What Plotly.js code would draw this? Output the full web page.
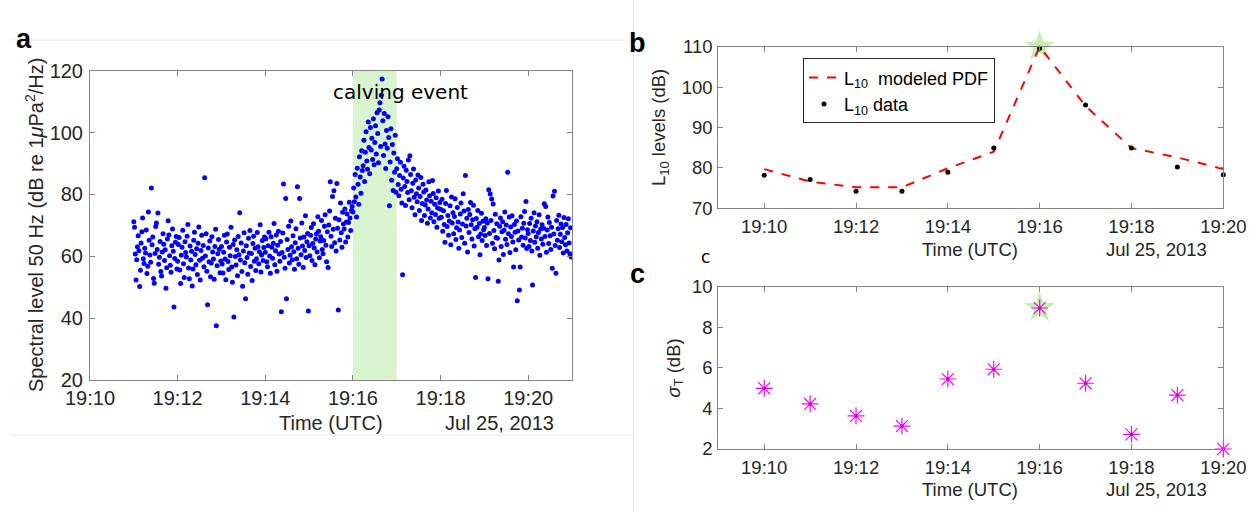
<!DOCTYPE html>
<html><head><meta charset="utf-8">
<script src="https://cdn.plot.ly/plotly-3.0.1.min.js"></script>
<style>html,body{margin:0;padding:0;background:#fff}#chart{width:1254px;height:512px}</style>
</head><body><div id="chart"></div>
<script>
// ---------- DATA ----------
const day = '2013-07-25 ';
const scatterStart = '19:11:00'; // first sample of panel a, one sample per second
// Panel a: spectral level 50 Hz (dB), one value per second, by minute
const min11 = [71.2,69.4,60.7,52.3,58.9,63.1,66.6,61.8,50.2,55.5,64.3,67.9,72.4,59.2,57.7,62.6,61.1,68.5,54.4,56.8,74.3,65.2,60.4,58.1,82.1,63.7,66.2,52.8,51.3,60.9,69.6,70.8,62.2,74.0,57.4,59.7,64.8,55.1,53.6,61.4,67.3,63.9,58.6,62.1,49.7,56.3,65.6,71.5,66.9,60.2,57.1,54.8,63.4,68.8,61.6,43.6,59.3,64.5,66.4,55.9];
const min12 = [58.4,63.8,66.1,55.6,51.2,60.3,62.9,68.4,57.6,53.1,64.7,61.2,59.8,66.5,70.3,56.2,52.7,63.3,58.8,61.6,50.4,55.9,65.2,67.8,60.6,57.3,62.4,54.1,64.2,69.5,58.7,52.3,61.9,66.8,59.4,63.5,56.6,85.4,60.1,67.3,55.2,44.3,62.7,58.2,64.9,53.4,57.8,66.3,61.4,59.1,52.6,63.2,68.7,37.5,56.9,60.8,65.4,62.3,54.7,58.5];
const min13 = [63.2,57.5,54.6,61.3,66.8,59.1,52.4,64.6,67.2,58.3,55.7,62.9,60.2,69.4,56.5,51.6,63.8,40.4,65.3,59.9,57.2,62.1,53.7,66.4,60.5,74.1,58.8,64.3,55.1,50.3,61.7,67.6,57.9,46.3,63.4,59.6,54.2,65.8,61.1,68.3,56.7,60.9,52.2,64.1,66.5,58.4,62.6,55.4,59.2,67.7,63.1,57.6,61.5,70.2,54.9,60.4,65.1,58.6,62.8,66.2];
const min14 = [61.3,65.7,58.2,56.6,63.4,67.8,60.1,54.5,66.3,62.9,59.4,64.2,70.6,57.3,61.8,66.9,55.2,63.6,68.1,60.7,58.4,64.8,42.1,61.2,67.5,83.4,59.7,56.1,78.7,46.3,65.4,62.2,69.7,57.8,60.3,71.4,63.1,58.9,66.6,61.5,55.8,64.4,68.9,59.2,82.5,62.6,57.4,78.7,65.9,60.5,70.8,63.3,56.4,66.2,61.9,73.1,59.6,64.7,67.4,42.3];
const min15 = [63.4,60.2,66.8,69.3,58.6,64.1,70.5,62.7,57.3,65.6,67.2,61.4,72.8,68.1,59.5,64.9,66.3,71.6,62.2,60.8,65.1,69.7,73.4,63.6,58.2,67.9,56.4,70.1,74.6,84.1,66.5,63.2,79.3,68.7,81.2,64.4,72.3,61.7,83.5,69.1,42.6,71.8,65.3,77.2,67.6,62.9,74.2,70.4,68.8,75.3,64.6,71.1,73.7,66.2,70.9,77.5,72.4,68.3,74.8,76.1];
const min16 = [74.3,82.1,77.6,86.4,79.2,72.7,88.5,83.3,76.8,92.2,85.6,80.4,94.1,87.7,89.3,97.5,84.2,93.6,100.3,90.8,88.1,103.4,95.2,86.7,101.6,94.4,98.2,91.3,104.5,89.6,96.8,102.2,93.1,106.4,99.7,90.2,107.3,109.6,95.5,112.1,117.3,103.8,92.6,106.2,96.3,88.4,100.7,94.9,105.1,98.4,76.3,90.5,101.2,84.6,96.1,81.3,93.4,87.2,99.1,80.7];
const min17 = [88.3,91.5,83.2,79.6,86.1,90.4,81.7,77.2,54.0,85.3,89.1,82.6,76.4,87.8,84.2,80.6,91.1,78.3,92.5,86.4,81.2,75.7,83.6,88.2,79.1,73.4,84.7,80.2,77.6,86.3,82.1,74.8,79.3,85.5,71.6,77.1,83.3,80.8,73.2,76.6,81.4,78.2,70.7,75.3,84.1,79.6,72.4,77.8,74.1,84.5,80.3,71.2,76.8,73.5,78.9,69.4,75.6,81.1,72.3,77.4];
const min18 = [75.2,72.6,78.4,68.1,74.7,70.3,64.5,77.1,81.3,69.6,73.2,66.8,71.4,76.3,63.7,79.2,70.8,74.1,67.3,72.9,78.6,65.4,69.2,75.8,71.1,62.6,68.5,73.7,77.2,66.1,70.4,80.2,74.6,64.2,86.1,69.8,72.3,61.4,75.1,67.7,73.5,77.4,70.2,65.6,71.8,76.5,63.3,68.9,53.1,72.2,69.4,74.8,66.3,70.6,60.5,67.2,73.9,65.1,71.3,68.6];
const min19 = [69.3,66.7,72.1,63.5,70.8,52.7,81.5,67.4,80.1,71.6,78.5,64.2,76.9,68.3,62.4,73.6,66.1,70.5,65.8,51.9,58.8,69.7,72.4,63.2,67.9,71.2,60.6,68.4,74.3,65.5,70.1,63.8,87.2,67.3,72.7,61.2,69.5,66.4,73.1,64.6,56.5,70.3,67.8,62.1,71.4,45.6,68.2,65.3,49.1,56.5,72.8,66.2,69.1,63.6,70.7,74.5,65.9,77.7,62.5,68.6];
const min20 = [67.4,63.2,70.6,65.1,72.3,61.7,50.7,68.2,74.1,64.5,69.8,66.3,71.2,62.6,67.7,73.4,60.3,68.8,65.6,70.2,63.9,69.1,77.0,66.4,76.1,61.3,68.5,72.7,64.1,70.9,66.6,62.2,69.4,56.1,79.5,67.2,81.0,63.5,54.5,71.6,65.2,68.9,73.3,62.8,67.1,70.4,64.7,69.3,61.1,72.5,66.1,63.7,70.3,61.7,67.6,72.1,64.3,60.8,69.2,59.8];
const calvingStart = '19:16:00', calvingEnd = '19:17:00';
const calvingLabel = 'calving event';

// Panels b and c: one value per minute
const minuteLabels = ['19:10','19:11','19:12','19:13','19:14','19:15','19:16','19:17','19:18','19:19','19:20'];
const l10Data  = [78.2,77.1,74.2,74.2,78.9,84.9,109.6,95.6,84.9,80.2,78.3];
const l10Model = [79.7,76.6,75.2,75.2,79.9,84.0,110.0,95.3,84.9,82.6,79.7];
const sigmaT   = [4.99,4.22,3.63,3.13,5.45,5.93,8.95,5.24,2.72,4.66,2.0];
const peakLabel = '19:16';

// ---------- BUILD ----------
const spectral = [].concat(min11,min12,min13,min14,min15,min16,min17,min18,min19,min20);
function pad(n){return (n<10?'0':'')+n;}
const [h0,m0,s0] = scatterStart.split(':').map(Number);
const spectralTimes = spectral.map((v,i)=>{
  let t = h0*3600+m0*60+s0+i;
  return day+pad(Math.floor(t/3600))+':'+pad(Math.floor(t/60)%60)+':'+pad(t%60);
});
const minuteTimes = minuteLabels.map(m=>day+m+':00');
const peakIdx = minuteLabels.indexOf(peakLabel);

const W=1254,H=512;
const px = x=>x/W, py = y=>1-y/H;
const FONT = 'Liberation Sans, Arial, sans-serif';
const TXT = '#262626';
const LINE = '#858585';

function axis(extra, fs){
  return Object.assign({showline:true, mirror:'ticks', linecolor:LINE, linewidth:1,
    ticks:'inside', ticklen:5, tickcolor:LINE, showgrid:false, zeroline:false,
    tickfont:{family:FONT,size:fs,color:TXT}, fixedrange:true}, extra);
}
function timeAxis(domain, anchor, r0, r1, fs, standoff){
  return axis({type:'date', domain:domain, anchor:anchor, range:[day+r0, day+r1],
    tickformat:'%H:%M', dtick:120000, tick0:day+'19:10:00', ticklabelstandoff:standoff}, fs);
}

const traces = [
  {type:'scatter', mode:'markers', x:spectralTimes, y:spectral, xaxis:'x', yaxis:'y',
   marker:{color:'#0000ff', size:5}, showlegend:false, hoverinfo:'skip'},
  // panel b
  {type:'scatter', mode:'markers', x:[minuteTimes[peakIdx]], y:[l10Model[peakIdx]], xaxis:'x2', yaxis:'y2',
   marker:{symbol:'star', size:23, color:'rgba(160,225,120,0.6)', line:{width:0}}, showlegend:false, cliponaxis:false, hoverinfo:'skip'},
  {type:'scatter', mode:'lines', x:minuteTimes, y:l10Model, xaxis:'x2', yaxis:'y2',
   name:'L<sub>10</sub>\u00a0 modeled PDF', line:{color:'#ff0000', width:2, dash:'dash'}, cliponaxis:false},
  {type:'scatter', mode:'markers', x:minuteTimes, y:l10Data, xaxis:'x2', yaxis:'y2',
   name:'L<sub>10</sub> data', marker:{color:'#000000', size:5}, cliponaxis:false},
  // panel c
  {type:'scatter', mode:'markers', x:[minuteTimes[peakIdx]], y:[sigmaT[peakIdx]], xaxis:'x3', yaxis:'y3',
   marker:{symbol:'star', size:23, color:'rgba(160,225,120,0.6)', line:{width:0}}, showlegend:false, cliponaxis:false, hoverinfo:'skip'},
  {type:'scatter', mode:'markers', x:minuteTimes, y:sigmaT, xaxis:'x3', yaxis:'y3',
   marker:{symbol:'asterisk-open', size:14, color:'#ff00ff', line:{color:'#ff00ff', width:1.2}}, showlegend:false, cliponaxis:false},
  {type:'scatter', mode:'markers', x:minuteTimes, y:sigmaT, xaxis:'x3', yaxis:'y3',
   marker:{symbol:'circle', size:3, color:'#c000c0'}, showlegend:false, cliponaxis:false, hoverinfo:'skip'}
];

function ann(text, x, y, size, opts){
  return Object.assign({text:text, x:px(x), y:py(y), xref:'paper', yref:'paper', showarrow:false,
    xanchor:'center', yanchor:'middle', font:{family:FONT, size:size, color:TXT}}, opts||{});
}

const annotations = [
  ann('<b>a</b>', 14, 38.5, 27, {xanchor:'left', font:{family:FONT,size:27,color:'#000'}}),
  ann('<b>b</b>', 627, 42.5, 27, {xanchor:'left', font:{family:FONT,size:27,color:'#000'}}),
  ann('<b>c</b>', 628, 274, 27, {xanchor:'left', font:{family:FONT,size:27,color:'#000'}}),
  ann('c', 699, 257, 17, {xanchor:'left', font:{family:'DejaVu Sans',size:17,color:'#000'}}),
  ann(calvingLabel, 400, 91.5, 20, {font:{family:'DejaVu Sans',size:20,color:'#000'}}),
  ann('Spectral level 50 Hz (dB re 1<i>μ</i>Pa<sup>2</sup>/Hz)', 34, 225, 20, {textangle:-90}),
  ann('Time (UTC)', 331, 423, 20),
  ann('Jul 25, 2013', 499, 422.5, 20),
  ann('L<sub>10</sub> levels (dB)', 660, 128, 18.5, {textangle:-90}),
  ann('Time (UTC)', 970, 249.5, 18.5),
  ann('Jul 25, 2013', 1156.5, 249, 18.5),
  ann('<i>σ</i><sub>T</sub> (dB)', 674, 368.5, 18.5, {textangle:-90}),
  ann('Time (UTC)', 970, 489.5, 18.5),
  ann('Jul 25, 2013', 1156.5, 489, 18.5)
];

const shapes = [
  {type:'rect', xref:'x', yref:'y domain', x0:day+calvingStart, x1:day+calvingEnd, y0:0, y1:1,
   fillcolor:'#d9f3ce', line:{width:0}, layer:'below'},
  {type:'line', xref:'paper', yref:'paper', x0:px(10), x1:px(633), y0:py(40), y1:py(40), line:{color:'#e8e8e8', width:1}},
  {type:'line', xref:'paper', yref:'paper', x0:px(10), x1:px(633), y0:py(435), y1:py(435), line:{color:'#e8e8e8', width:1}},
  {type:'line', xref:'paper', yref:'paper', x0:px(633.5), x1:px(633.5), y0:0, y1:1, line:{color:'#e3e3e3', width:1}}
];

const layout = {
  width:W, height:H, margin:{l:0,r:0,t:0,b:0}, paper_bgcolor:'#fff', plot_bgcolor:'#fff',
  showlegend:true,
  legend:{x:px(803), y:py(58.3), xanchor:'left', yanchor:'top', bgcolor:'#fff', bordercolor:'#262626',
          borderwidth:1, font:{family:FONT,size:18,color:'#000'}, itemwidth:30},
  xaxis: timeAxis([px(90),px(572)], 'y', '19:10:00', '19:21:00', 20, 0),
  yaxis: axis({domain:[py(380),py(70.7)], anchor:'x', range:[20,120], dtick:20, ticklabelstandoff:2}, 20),
  xaxis2: timeAxis([px(718.3),px(1223.3)], 'y2', '19:09:00', '19:20:00', 18.5, 1),
  yaxis2: axis({domain:[py(208.3),py(46.7)], anchor:'x2', range:[70,110], dtick:10, ticklabelstandoff:1}, 18.5),
  xaxis3: timeAxis([px(718.3),px(1223.3)], 'y3', '19:09:00', '19:20:00', 18.5, 2),
  yaxis3: axis({domain:[py(449),py(286.7)], anchor:'x3', range:[2,10], dtick:2, ticklabelstandoff:1}, 18.5),
  annotations: annotations,
  shapes: shapes
};

Plotly.newPlot('chart', traces, layout, {staticPlot:true, displayModeBar:false});
</script></body></html>
